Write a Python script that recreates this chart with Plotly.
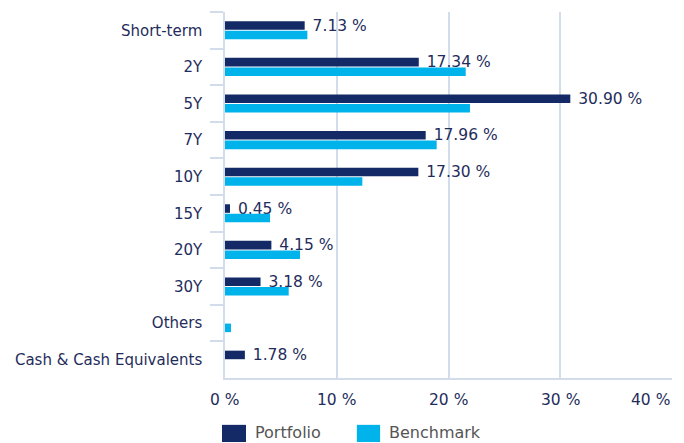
import plotly.graph_objects as go

categories = ["Short-term", "2Y", "5Y", "7Y", "10Y", "15Y", "20Y", "30Y", "Others",
              "Cash & Cash Equivalents"]
portfolio = [7.13, 17.34, 30.90, 17.96, 17.30, 0.45, 4.15, 3.18, 0.0, 1.78]
benchmark = [7.37, 21.54, 21.92, 18.94, 12.29, 4.03, 6.71, 5.70, 0.54, 0.0]
tick_vals = [0, 10, 20, 30, 40]
tick_labels = ["0 %", "10 %", "20 %", "30 %", "40 %"]
series_names = ["Portfolio", "Benchmark"]

NAVY = "#142a66"
CYAN = "#00b4eb"
GRID = "#d3dcea"
TXT = "#1f2d5c"
FONT = "DejaVu Sans"

port_text = [("\u00a0%.2f %%" % v) if v > 0 else "" for v in portfolio]

fig = go.Figure()
fig.add_trace(go.Bar(
    y=categories, x=portfolio, orientation="h", name=series_names[0],
    marker=dict(color=NAVY, line=dict(width=0)),
    text=port_text, textposition="outside", cliponaxis=False,
    constraintext="none",
    textfont=dict(family=FONT, size=15.5, color=TXT),
    hoverinfo="x+y",
))
fig.add_trace(go.Bar(
    y=categories, x=benchmark, orientation="h", name=series_names[1],
    marker=dict(color=CYAN, line=dict(width=0)),
    hoverinfo="x+y",
))

# the page body adds an 8px margin, so the figure is sized to fit inside it
fig.update_layout(
    width=676, height=435,
    margin=dict(l=217, r=12, t=4, b=65),
    paper_bgcolor="white", plot_bgcolor="white",
    barmode="group", bargap=0.48, bargroupgap=0.1,
    showlegend=False,
    font=dict(family=FONT, size=15, color=TXT),
)
fig.update_xaxes(
    range=[0, 40], tickvals=tick_vals, showticklabels=False,
    showgrid=True, gridcolor=GRID, gridwidth=1.5,
    zeroline=False, showline=True, linecolor=GRID, linewidth=1.5,
    fixedrange=True,
)
fig.update_yaxes(
    autorange="reversed", showgrid=False, zeroline=False,
    showline=True, linecolor=GRID, linewidth=1.5,
    ticks="outside", ticklen=13, tickcolor=GRID, tickwidth=1.5,
    tickson="boundaries", ticklabelstandoff=18,
    tickfont=dict(family=FONT, size=15, color=TXT),
)

# x tick labels (last one kept inside the figure, right-aligned to its gridline)
for i, (v, lab) in enumerate(zip(tick_vals, tick_labels)):
    fig.add_annotation(
        x=v, y=-0.06, xref="x", yref="paper", text=lab, showarrow=False,
        xanchor="right" if i == len(tick_vals) - 1 else "center", yanchor="middle",
        font=dict(family=FONT, size=15.5, color=TXT),
    )

# custom legend
legend_items = [(series_names[0], NAVY, -0.0067, 0.047, 0.063),
                (series_names[1], CYAN, 0.295, 0.347, 0.363)]
for name, col, x0, x1, xt in legend_items:
    fig.add_shape(type="rect", xref="paper", yref="paper", x0=x0, x1=x1,
                  y0=-0.128, y1=-0.175, fillcolor=col, line=dict(width=0))
    fig.add_annotation(x=xt, y=-0.150, xref="paper", yref="paper", text=name,
                       showarrow=False, xanchor="left", yanchor="middle",
                       font=dict(family=FONT, size=16, color="#555555"))

fig.write_html("out.html")
